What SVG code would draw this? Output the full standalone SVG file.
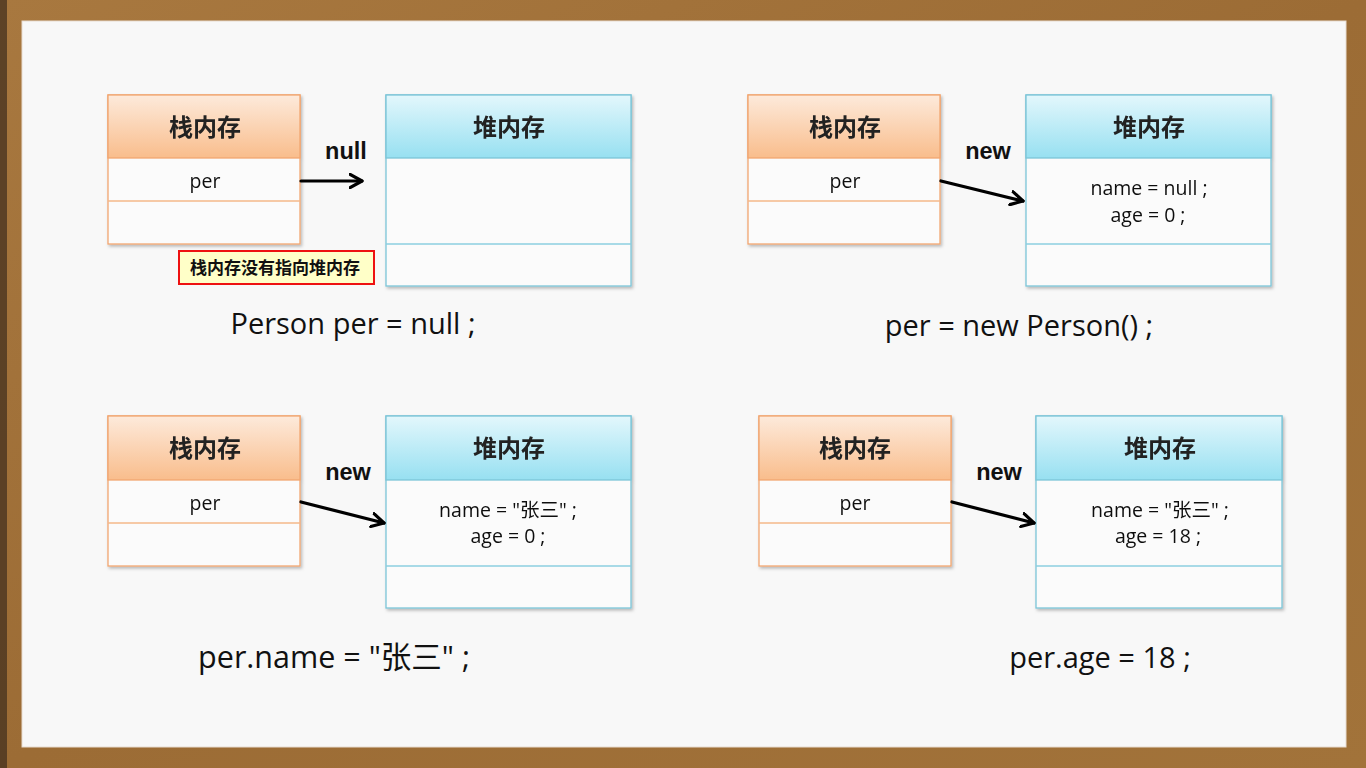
<svg xmlns="http://www.w3.org/2000/svg" width="1366" height="768" viewBox="0 0 1366 768">
<defs>
<linearGradient id="wood" x1="0" y1="0" x2="1" y2="1">
<stop offset="0" stop-color="#a8783f"/>
<stop offset="0.5" stop-color="#9c6c35"/>
<stop offset="1" stop-color="#a2733a"/>
</linearGradient>
<linearGradient id="stackHead" x1="0" y1="0" x2="0" y2="1">
<stop offset="0" stop-color="#fdeadb"/>
<stop offset="1" stop-color="#f9bd8c"/>
</linearGradient>
<linearGradient id="heapHead" x1="0" y1="0" x2="0" y2="1">
<stop offset="0" stop-color="#e3f7fc"/>
<stop offset="1" stop-color="#97e0f1"/>
</linearGradient>
<filter id="shadow" x="-10%" y="-10%" width="125%" height="125%">
<feDropShadow dx="1.5" dy="2" stdDeviation="1.5" flood-color="#000" flood-opacity="0.25"/>
</filter>
<marker id="chev" viewBox="0 0 12 12" refX="10" refY="6" markerWidth="5" markerHeight="5" orient="auto" markerUnits="strokeWidth">
<path d="M1,1 L10,6 L1,11" fill="none" stroke="#000" stroke-width="2.4" stroke-linecap="round" stroke-linejoin="round"/>
</marker>
</defs>
<style>
.stack rect.frame{fill:#fbfbfb;stroke:#f2a670;stroke-width:1.3}
.stack rect.head{fill:url(#stackHead);stroke:#f2a670;stroke-width:1.3}
.stack line{stroke:#f5b98a;stroke-width:1.3}
.heap rect.frame{fill:#fbfbfb;stroke:#7cc5d8;stroke-width:1.3}
.heap rect.head{fill:url(#heapHead);stroke:#7cc5d8;stroke-width:1.3}
.heap line{stroke:#8ccfe0;stroke-width:1.3}
.hd{font-family:"Noto Sans CJK SC","Noto Sans",sans-serif;font-weight:bold;font-size:24px;fill:#222;text-anchor:middle}
.fld{font-family:"Open Sans","Noto Sans CJK SC",sans-serif;font-size:19.5px;fill:#111;text-anchor:middle}
.lbl{font-family:"Liberation Sans",Arial,sans-serif;font-weight:bold;font-size:23.5px;fill:#111;text-anchor:middle}
.code{font-family:"Open Sans","Noto Sans CJK SC",sans-serif;font-size:29px;fill:#111;text-anchor:middle}
.arrow{stroke:#000;stroke-width:3.2;fill:none;stroke-linecap:round;marker-end:url(#chev)}
</style>
<rect width="1366" height="768" fill="url(#wood)"/>
<rect x="0" y="0" width="7" height="768" fill="#4a3520" opacity="0.8"/>
<rect x="22" y="21" width="1324" height="726" fill="#f8f8f8" stroke="#e8dcd0" stroke-width="1"/>

<!-- Top-left -->
<g id="stack1" class="stack" filter="url(#shadow)">
<rect class="frame" x="108" y="95" width="192" height="149"/>
<rect class="head" x="108" y="95" width="192" height="63"/>
<line x1="108" y1="201" x2="300" y2="201"/>
<text class="hd" x="205" y="136">栈内存</text>
<text class="fld" x="205" y="188">per</text>
</g>
<g id="heap1" class="heap" filter="url(#shadow)">
<rect class="frame" x="386" y="95" width="245" height="191"/>
<rect class="head" x="386" y="95" width="245" height="63"/>
<line x1="386" y1="244" x2="631" y2="244"/>
<text class="hd" x="509" y="136">堆内存</text>
</g>
<g id="note1">
<rect x="179" y="251" width="195" height="33" fill="#ffffc8" stroke="#ee1111" stroke-width="2"/>
<text x="275" y="274" font-family="'Noto Sans CJK SC',sans-serif" font-size="17" font-weight="bold" fill="#111" text-anchor="middle">栈内存没有指向堆内存</text>
</g>
<text id="code1" class="code" x="353" y="334">Person per = null ;</text>

<!-- Top-right -->
<g id="stack2" class="stack" filter="url(#shadow)">
<rect class="frame" x="748" y="95" width="192" height="149"/>
<rect class="head" x="748" y="95" width="192" height="63"/>
<line x1="748" y1="201" x2="940" y2="201"/>
<text class="hd" x="845" y="136">栈内存</text>
<text class="fld" x="845" y="188">per</text>
</g>
<g id="heap2" class="heap" filter="url(#shadow)">
<rect class="frame" x="1026" y="95" width="245" height="191"/>
<rect class="head" x="1026" y="95" width="245" height="63"/>
<line x1="1026" y1="244" x2="1271" y2="244"/>
<text class="hd" x="1149" y="136">堆内存</text>
<text class="fld" x="1149" y="195">name = null ;</text>
<text class="fld" x="1148" y="222">age = 0 ;</text>
</g>
<text id="code2" class="code" x="1019" y="336">per = new Person() ;</text>

<!-- Bottom-left -->
<g id="stack3" class="stack" filter="url(#shadow)">
<rect class="frame" x="108" y="416" width="192" height="150"/>
<rect class="head" x="108" y="416" width="192" height="64"/>
<line x1="108" y1="523" x2="300" y2="523"/>
<text class="hd" x="205" y="457">栈内存</text>
<text class="fld" x="205" y="510">per</text>
</g>
<g id="heap3" class="heap" filter="url(#shadow)">
<rect class="frame" x="386" y="416" width="245" height="192"/>
<rect class="head" x="386" y="416" width="245" height="64"/>
<line x1="386" y1="566" x2="631" y2="566"/>
<text class="hd" x="509" y="457">堆内存</text>
<text class="fld" x="508" y="517">name = "张三" ;</text>
<text class="fld" x="508" y="543">age = 0 ;</text>
</g>
<text id="code3" class="code" x="334" y="668" style="font-size:30.5px">per.name = "张三" ;</text>

<!-- Bottom-right -->
<g id="stack4" class="stack" filter="url(#shadow)">
<rect class="frame" x="759" y="416" width="192" height="150"/>
<rect class="head" x="759" y="416" width="192" height="64"/>
<line x1="759" y1="523" x2="951" y2="523"/>
<text class="hd" x="855" y="457">栈内存</text>
<text class="fld" x="855" y="510">per</text>
</g>
<g id="heap4" class="heap" filter="url(#shadow)">
<rect class="frame" x="1036" y="416" width="246" height="192"/>
<rect class="head" x="1036" y="416" width="246" height="64"/>
<line x1="1036" y1="566" x2="1282" y2="566"/>
<text class="hd" x="1160" y="457">堆内存</text>
<text class="fld" x="1160" y="517">name = "张三" ;</text>
<text class="fld" x="1158" y="543">age = 18 ;</text>
</g>
<text id="code4" class="code" x="1100" y="668">per.age = 18 ;</text>

<g id="connectors">
<line class="arrow" x1="301" y1="181" x2="362" y2="181"/>
<text class="lbl" x="346" y="159">null</text>
<line class="arrow" x1="941" y1="181" x2="1023" y2="201"/>
<text class="lbl" x="988" y="159">new</text>
<line class="arrow" x1="301" y1="502" x2="384" y2="523"/>
<text class="lbl" x="348" y="480">new</text>
<line class="arrow" x1="952" y1="502" x2="1034" y2="523"/>
<text class="lbl" x="999" y="480">new</text>
</g>
</svg>
